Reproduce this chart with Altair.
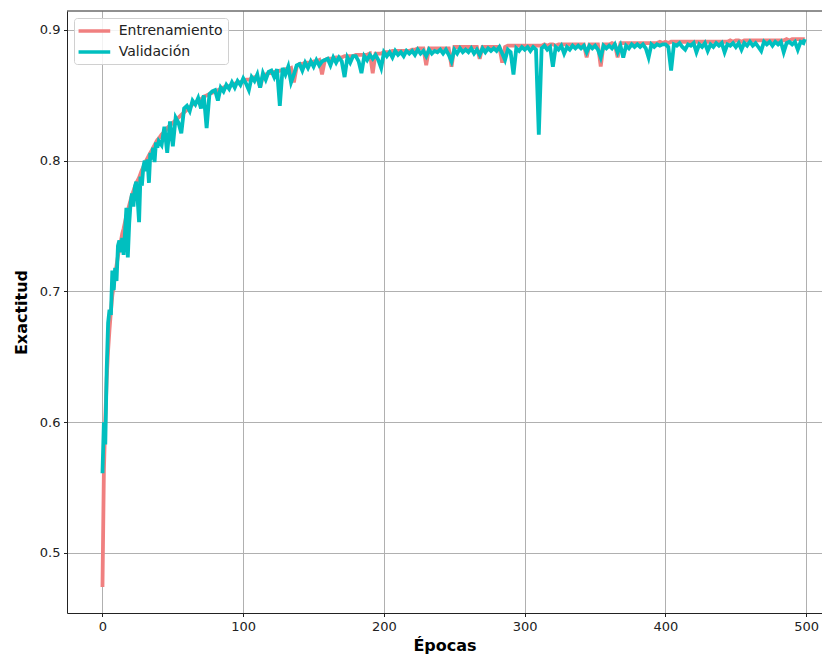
import altair as alt
import pandas as pd

# Epoch positions (every epoch up to 39, then every 2nd epoch, plus the last one)
epochs = list(range(0, 40)) + list(range(40, 499, 2)) + [499]

series_names = ["Entrenamiento", "Validación"]
series_colors = ["#F08080", "#00BFBF"]

train_acc = [
    0.474, 0.562, 0.602, 0.633, 0.655, 0.671, 0.685, 0.697, 0.705, 0.713,
    0.720, 0.727, 0.733, 0.738, 0.744, 0.748, 0.753, 0.758, 0.762, 0.766,
    0.770, 0.774, 0.777, 0.780, 0.783, 0.785, 0.787, 0.790, 0.793, 0.795,
    0.798, 0.800, 0.802, 0.804, 0.806, 0.808, 0.810, 0.812, 0.814, 0.816,
    0.817, 0.820, 0.822, 0.825, 0.827, 0.829, 0.831, 0.833, 0.835, 0.837,
    0.839, 0.841, 0.843, 0.844, 0.846, 0.847, 0.849, 0.850, 0.851, 0.852,
    0.853, 0.854, 0.855, 0.856, 0.857, 0.857, 0.858, 0.859, 0.860, 0.860,
    0.861, 0.862, 0.862, 0.863, 0.864, 0.864, 0.856, 0.865, 0.866, 0.867,
    0.867, 0.868, 0.868, 0.869, 0.869, 0.870, 0.870, 0.871, 0.860, 0.872,
    0.874, 0.874, 0.875, 0.875, 0.875, 0.876, 0.876, 0.877, 0.866, 0.877,
    0.878, 0.878, 0.878, 0.879, 0.879, 0.879, 0.880, 0.880, 0.880, 0.880,
    0.881, 0.881, 0.881, 0.881, 0.881, 0.882, 0.867, 0.882, 0.882, 0.882,
    0.883, 0.883, 0.883, 0.884, 0.884, 0.884, 0.884, 0.884, 0.884, 0.884,
    0.885, 0.885, 0.886, 0.886, 0.886, 0.873, 0.886, 0.886, 0.886, 0.886,
    0.886, 0.886, 0.886, 0.886, 0.872, 0.887, 0.887, 0.887, 0.887, 0.887,
    0.887, 0.887, 0.887, 0.887, 0.878, 0.887, 0.887, 0.887, 0.887, 0.887,
    0.887, 0.887, 0.875, 0.887, 0.888, 0.888, 0.888, 0.888, 0.888, 0.888,
    0.888, 0.888, 0.888, 0.888, 0.888, 0.888, 0.888, 0.889, 0.888, 0.889,
    0.889, 0.888, 0.889, 0.889, 0.889, 0.889, 0.889, 0.889, 0.889, 0.889,
    0.889, 0.889, 0.879, 0.889, 0.889, 0.889, 0.889, 0.872, 0.889, 0.889,
    0.889, 0.890, 0.889, 0.879, 0.890, 0.890, 0.890, 0.890, 0.890, 0.890,
    0.890, 0.890, 0.890, 0.890, 0.890, 0.890, 0.890, 0.890, 0.891, 0.890,
    0.891, 0.890, 0.891, 0.891, 0.891, 0.891, 0.891, 0.891, 0.891, 0.891,
    0.891, 0.891, 0.891, 0.891, 0.891, 0.891, 0.891, 0.891, 0.891, 0.891,
    0.891, 0.891, 0.891, 0.892, 0.891, 0.892, 0.892, 0.891, 0.892, 0.892,
    0.892, 0.892, 0.892, 0.892, 0.892, 0.892, 0.892, 0.892, 0.892, 0.892,
    0.892, 0.892, 0.892, 0.893, 0.892, 0.893, 0.893, 0.893, 0.893, 0.893,
    0.893,
]

val_acc = [
    0.561, 0.600, 0.583, 0.640, 0.676, 0.686, 0.682, 0.716, 0.701, 0.718,
    0.708, 0.735, 0.739, 0.730, 0.741, 0.728, 0.745, 0.764, 0.726, 0.752,
    0.768, 0.775, 0.765, 0.780, 0.784, 0.770, 0.753, 0.788, 0.781, 0.795,
    0.800, 0.792, 0.801, 0.783, 0.806, 0.801, 0.810, 0.799, 0.814, 0.810,
    0.815, 0.812, 0.826, 0.806, 0.830, 0.811, 0.833, 0.829, 0.821, 0.840,
    0.842, 0.838, 0.846, 0.843, 0.848, 0.840, 0.850, 0.825, 0.851, 0.853,
    0.854, 0.846, 0.856, 0.853, 0.858, 0.855, 0.860, 0.856, 0.861, 0.858,
    0.863, 0.859, 0.854, 0.864, 0.861, 0.866, 0.856, 0.867, 0.862, 0.868,
    0.869, 0.864, 0.870, 0.842, 0.871, 0.866, 0.872, 0.860, 0.866, 0.873,
    0.874, 0.869, 0.875, 0.871, 0.876, 0.872, 0.877, 0.873, 0.876, 0.877,
    0.878, 0.873, 0.879, 0.875, 0.879, 0.876, 0.864, 0.879, 0.875, 0.880,
    0.880, 0.876, 0.867, 0.880, 0.877, 0.881, 0.878, 0.881, 0.877, 0.871,
    0.883, 0.880, 0.883, 0.879, 0.884, 0.881, 0.883, 0.880, 0.884, 0.882,
    0.884, 0.881, 0.885, 0.882, 0.884, 0.880, 0.885, 0.882, 0.884, 0.883,
    0.885, 0.882, 0.885, 0.881, 0.876, 0.885, 0.882, 0.886, 0.883, 0.885,
    0.883, 0.886, 0.882, 0.885, 0.881, 0.886, 0.883, 0.886, 0.884, 0.886,
    0.884, 0.887, 0.882, 0.877, 0.885, 0.883, 0.866, 0.886, 0.884, 0.887,
    0.885, 0.887, 0.884, 0.887, 0.885, 0.820, 0.886, 0.888, 0.885, 0.887,
    0.872, 0.887, 0.885, 0.888, 0.882, 0.887, 0.885, 0.888, 0.886, 0.888,
    0.886, 0.888, 0.883, 0.888, 0.886, 0.888, 0.885, 0.879, 0.888, 0.886,
    0.888, 0.886, 0.889, 0.883, 0.888, 0.879, 0.888, 0.886, 0.889, 0.887,
    0.889, 0.887, 0.889, 0.886, 0.879, 0.889, 0.887, 0.889, 0.888, 0.889,
    0.889, 0.887, 0.869, 0.889, 0.888, 0.890, 0.887, 0.885, 0.889, 0.888,
    0.890, 0.883, 0.889, 0.887, 0.890, 0.884, 0.889, 0.887, 0.890, 0.888,
    0.890, 0.883, 0.889, 0.888, 0.890, 0.887, 0.890, 0.885, 0.890, 0.888,
    0.891, 0.888, 0.890, 0.887, 0.884, 0.891, 0.889, 0.891, 0.888, 0.891,
    0.889, 0.891, 0.883, 0.890, 0.891, 0.889, 0.891, 0.885, 0.891, 0.890,
    0.893,
]

x_ticks = [0, 100, 200, 300, 400, 500]
y_ticks = [0.5, 0.6, 0.7, 0.8, 0.9]

FONT = "DejaVu Sans"
W, H = 755, 602

df_t = pd.DataFrame({"epoca": epochs, "exactitud": train_acc, "serie": series_names[0]})
df_v = pd.DataFrame({"epoca": epochs, "exactitud": val_acc, "serie": series_names[1]})

x_enc = alt.X(
    "epoca:Q",
    scale=alt.Scale(domain=[-25.2, 511.2], nice=False, zero=False),
    axis=alt.Axis(title="Épocas", values=x_ticks, format="d", titlePadding=4),
)
y_enc = alt.Y(
    "exactitud:Q",
    scale=alt.Scale(domain=[0.45411, 0.91453], nice=False, zero=False),
    axis=alt.Axis(title="Exactitud", values=y_ticks, format=".1f", titlePadding=10),
)
color_enc = alt.Color(
    "serie:N",
    scale=alt.Scale(domain=series_names, range=series_colors),
    legend=alt.Legend(
        title=None,
        orient="none",
        legendX=7,
        legendY=7,
        symbolType="M-1.4,0H3.88",
        symbolSize=144,
        symbolStrokeWidth=3.5,
        labelFont=FONT,
        labelFontSize=14,
        labelColor="#222222",
        labelOffset=23.8,
        padding=4.95,
        rowPadding=6,
        fillColor="rgba(255,255,255,0.85)",
        strokeColor="#d0d0d0",
        cornerRadius=3,
    ),
)

line_t = alt.Chart(df_t).mark_line(strokeWidth=3.8).encode(x=x_enc, y=y_enc, color=color_enc)
line_v = alt.Chart(df_v).mark_line(strokeWidth=3.8).encode(x=x_enc, y=y_enc, color=color_enc)
top_spine = alt.Chart(pd.DataFrame({"k": [0]})).mark_rule(color="#222222", strokeWidth=1).encode(
    x=alt.value(0), x2=alt.value(W), y=alt.value(0)
)

chart = (
    alt.layer(line_t, line_v, top_spine)
    .properties(
        width=W,
        height=H,
        autosize=alt.AutoSizeParams(type="none"),
        padding={"left": 59, "top": 3, "right": 0, "bottom": 42},
    )
    .configure_view(stroke=None)
    .configure_axis(
        domainColor="#222222",
        domainWidth=1,
        tickColor="#222222",
        tickSize=3.5,
        tickWidth=1,
        labelFont=FONT,
        labelFontSize=13,
        labelColor="#222222",
        labelPadding=3.5,
        grid=True,
        gridColor="#b0b0b0",
        gridWidth=1,
        titleFont=FONT,
        titleFontSize=16,
        titleFontWeight="bold",
        titleColor="#000000",
    )
)

chart.save("out.html", embed_options={"renderer": "svg", "actions": False})
